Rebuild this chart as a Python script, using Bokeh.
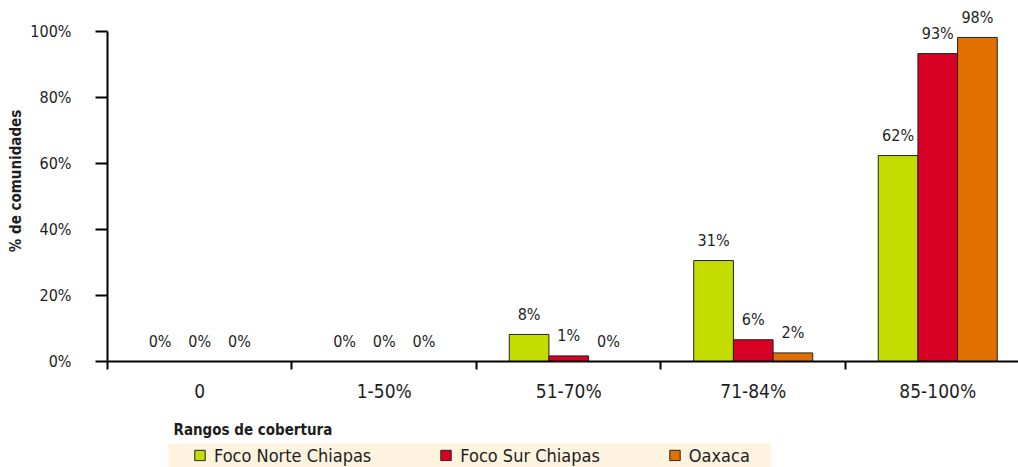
from bokeh.plotting import figure
from bokeh.models import ColumnDataSource, Range1d, FixedTicker, Legend, LegendItem
from bokeh.layouts import column
from bokeh.embed import file_html
from bokeh.resources import INLINE
from bokeh.core.properties import value
from bokeh.transform import dodge

# ---------------- data ----------------
categories = ["0", "1-50%", "51-70%", "71-84%", "85-100%"]
series_names = ["Foco Norte Chiapas", "Foco Sur Chiapas", "Oaxaca"]
norte = [0, 0, 8.2, 30.6, 62.4]
sur = [0, 0, 1.7, 6.6, 93.3]
oaxaca = [0, 0, 0, 2.6, 98.2]
norte_labels = ["0%", "0%", "8%", "31%", "62%"]
sur_labels = ["0%", "0%", "1%", "6%", "93%"]
oaxaca_labels = ["0%", "0%", "0%", "2%", "98%"]
y_ticks = [0, 20, 40, 60, 80, 100]
y_tick_labels = ["0%", "20%", "40%", "60%", "80%", "100%"]
y_title = "% de comunidades"
legend_title = "Rangos de cobertura"

# ---------------- style ----------------
FONT = "'DejaVu Sans Condensed', Roboto, sans-serif"
COLORS = ["#c4dc00", "#d80024", "#e07000"]
OUTLINE = "#222222"
TXT = "#1e1e1e"
CREAM = "#fdf3de"
BAR_W = 0.215

xs = list(range(len(categories)))
src = ColumnDataSource(dict(
    x=xs, norte=norte, sur=sur, oaxaca=oaxaca,
    norte_lbl=norte_labels, sur_lbl=sur_labels, oaxaca_lbl=oaxaca_labels,
))

p = figure(width=1018, height=410,
           x_range=Range1d(-0.5, 4.4377), y_range=Range1d(0, 109.39),
           output_backend="svg", toolbar_location=None,
           min_border_left=107, min_border_right=0, min_border_top=0, min_border_bottom=49)
p.frame_align = False
p.outline_line_color = None
p.grid.visible = False
p.background_fill_color = "white"

offsets = [-BAR_W, 0.0, BAR_W]
cols = ["norte", "sur", "oaxaca"]
for off, col, color in zip(offsets, cols, COLORS):
    p.vbar(x=dodge("x", off, range=p.x_range), top=col, width=BAR_W, source=src,
           fill_color=color, line_color=OUTLINE, line_width=1)
    p.text(x=dodge("x", off, range=p.x_range), y=col, text=col + "_lbl", source=src,
           text_align="center", text_baseline="alphabetic", y_offset=-20,
           text_font=value(FONT), text_font_size="16px", text_color=TXT)

# y axis
ya = p.yaxis[0]
ya.ticker = FixedTicker(ticks=y_ticks, minor_ticks=[])
ya.major_label_overrides = {t: l for t, l in zip(y_ticks, y_tick_labels)}
ya.bounds = (0, 100)
ya.major_tick_in = 0
ya.major_tick_out = 12
ya.minor_tick_out = 0
ya.minor_tick_in = 0
ya.axis_line_width = 2
ya.major_tick_line_width = 2
ya.axis_line_color = "black"
ya.major_tick_line_color = "black"
ya.major_label_standoff = 24
ya.major_label_text_font = FONT
ya.major_label_text_font_size = "16px"
ya.major_label_text_color = TXT
ya.axis_label = y_title
ya.axis_label_text_font = FONT
ya.axis_label_text_font_size = "15px"
ya.axis_label_text_font_style = "bold"
ya.axis_label_text_color = TXT
ya.axis_label_standoff = 2

# x axis
xa = p.xaxis[0]
xa.ticker = FixedTicker(ticks=xs, minor_ticks=[-0.5, 0.5, 1.5, 2.5, 3.5, 4.5])
xa.major_label_overrides = {x: c for x, c in zip(xs, categories)}
xa.major_tick_in = 0
xa.major_tick_out = 0
xa.minor_tick_in = 0
xa.minor_tick_out = 8
xa.minor_tick_line_width = 2
xa.minor_tick_line_color = "black"
xa.axis_line_width = 2
xa.axis_line_color = "black"
xa.major_label_standoff = 10
xa.major_label_text_font = FONT
xa.major_label_text_font_size = "19px"
xa.major_label_text_color = TXT

# ---------------- legend strip ----------------
lf = figure(width=1018, height=57, x_range=Range1d(0, 1), y_range=Range1d(0, 1),
            output_backend="svg", toolbar_location=None,
            x_axis_location=None, y_axis_location=None,
            min_border_left=168, min_border_right=248, min_border_bottom=0, min_border_top=33,
            background_fill_color=CREAM, border_fill_color="white")
lf.frame_align = False
lf.outline_line_color = None
lf.grid.visible = False
lf.title.text = legend_title
lf.title.text_font = FONT
lf.title.text_font_size = "15px"
lf.title.text_font_style = "bold"
lf.title.text_color = TXT
lf.title.align = "left"
lf.title.offset = 5

items = []
for name, color in zip(series_names, COLORS):
    # placeholder bar kept below the strip's visible range; it only feeds the legend swatch
    r = lf.vbar(x=[0.5], bottom=[-2], top=[-1], width=0.1,
                fill_color=color, line_color=OUTLINE, line_width=1)
    items.append(LegendItem(label=name, renderers=[r]))
leg = Legend(items=items, location="center_left", orientation="horizontal",
             background_fill_alpha=0, border_line_color=None, padding=0, margin=25,
             spacing=68, glyph_width=13, glyph_height=13, label_standoff=8,
             label_text_font=FONT, label_text_font_size="18px", label_text_color=TXT)
lf.add_layout(leg)

layout = column(p, lf, spacing=0)
open("out.html", "w").write(file_html(layout, INLINE))
